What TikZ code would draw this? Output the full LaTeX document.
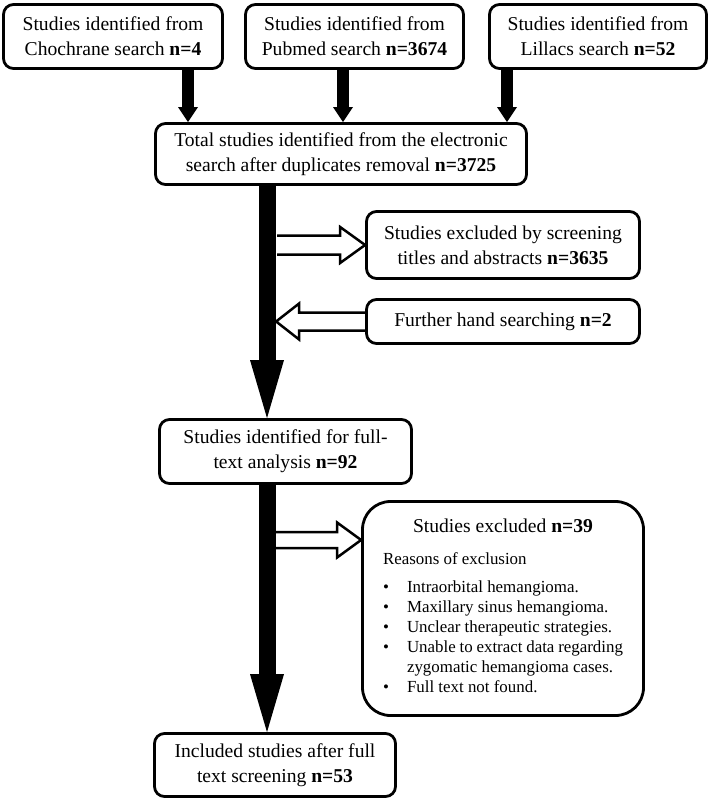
\documentclass[tikz,border=0pt]{standalone}
\usepackage{fontspec}
\setmainfont{Liberation Serif}
\usetikzlibrary{arrows.meta,calc}
\newcommand{\bitem}[1]{\par\noindent\makebox[24pt][l]{\textbullet}#1}
\newcommand{\bcont}[1]{\par\noindent\hspace*{24pt}#1}
\begin{document}
\begin{tikzpicture}[x=1pt,y=-1pt,
 box/.style={draw, line width=2.8pt, rounded corners=10pt, fill=white, align=center, inner sep=0pt, font=\fontsize{19.6}{25}\selectfont},
 thinarr/.style={line width=12pt, -{Triangle[length=15pt,width=20pt,line width=0pt]}},
 mainarr/.style={line width=17pt, -{Triangle[length=58pt,width=34pt,line width=0pt]}},
 hollow/.style={draw, line width=2.5pt, miter limit=10, line join=miter},
]
\useasboundingbox (0,0) rectangle (711,802);

\node[box, minimum width=219pt, minimum height=64pt] (c1) at (113,36.5) {Studies identified from\\Chochrane search \textbf{n=4}};
\node[box, minimum width=218pt, minimum height=64pt] (c2) at (354.5,36.5) {Studies identified from\\Pubmed search \textbf{n=3674}};
\node[box, minimum width=217pt, minimum height=64pt] (c3) at (598,36.5) {Studies identified from\\Lillacs search \textbf{n=52}};
\node[box, minimum width=371pt, minimum height=61pt] (tot) at (341,154) {Total studies identified from the electronic\\search after duplicates removal \textbf{n=3725}};
\node[box, minimum width=273pt, minimum height=67pt] (scr) at (503,245) {Studies excluded by screening\\titles and abstracts \textbf{n=3635}};
\node[box, minimum width=273pt, minimum height=44pt] (fur) at (503,321.5) {Further hand searching \textbf{n=2}};
\node[box, minimum width=252pt, minimum height=64pt] (ful) at (285.5,451.5) {Studies identified for full-\\text analysis \textbf{n=92}};
\node[box, rounded corners=28pt, minimum width=281pt, minimum height=214pt] (exc) at (503,608.5) {\begin{minipage}{240pt}
{\centering\fontsize{19.6}{25}\selectfont Studies excluded \textbf{n=39}\par}
\raggedright\fontsize{16.9}{20}\selectfont
\vspace{12pt}
\noindent Reasons of exclusion\par
\vspace{8pt}
\bitem{Intraorbital hemangioma.}
\bitem{Maxillary sinus hemangioma.}
\bitem{Unclear therapeutic strategies.}
\bitem{Unable to extract data regarding}
\bcont{zygomatic hemangioma cases.}
\bitem{Full text not found.}\strut
\end{minipage}};
\node[box, minimum width=241pt, minimum height=63pt] (inc) at (275,765) {Included studies after full\\text screening \textbf{n=53}};

\draw[thinarr] ([xshift=75pt]c1.south) -- ([xshift=75pt]c1.south |- tot.north);
\draw[thinarr] ([xshift=-11.5pt]c2.south) -- ([xshift=-11.5pt]c2.south |- tot.north);
\draw[thinarr] ([xshift=-91pt]c3.south) -- ([xshift=-91pt]c3.south |- tot.north);

\draw[hollow] ([shift={(-88,-9.5)}]scr.west) -- ++(63,0) -- ++(0,-8.5) -- (scr.west) -- ++(-25,18) -- ++(0,-8.5) -- ++(-63,0);
\draw[hollow] ([shift={(0,-9)}]fur.west) -- ++(-66,0) -- ++(0,-9) -- ++(-23,18) -- ++(23,18) -- ++(0,-9) -- ++(66,0);
\coordinate (t3) at ([yshift=68.5pt]exc.west);
\draw[hollow] ([shift={(-86,-8)}]t3) -- ++(62,0) -- ++(0,-9.5) -- (t3) -- ++(-24,17.5) -- ++(0,-9.5) -- ++(-62,0);

\draw[mainarr] ([xshift=-74pt]tot.south) -- ([xshift=-74pt]tot.south |- ful.north);
\draw[mainarr] ([xshift=-18.5pt]ful.south) -- ([xshift=-18.5pt]ful.south |- inc.north);
\end{tikzpicture}
\end{document}
